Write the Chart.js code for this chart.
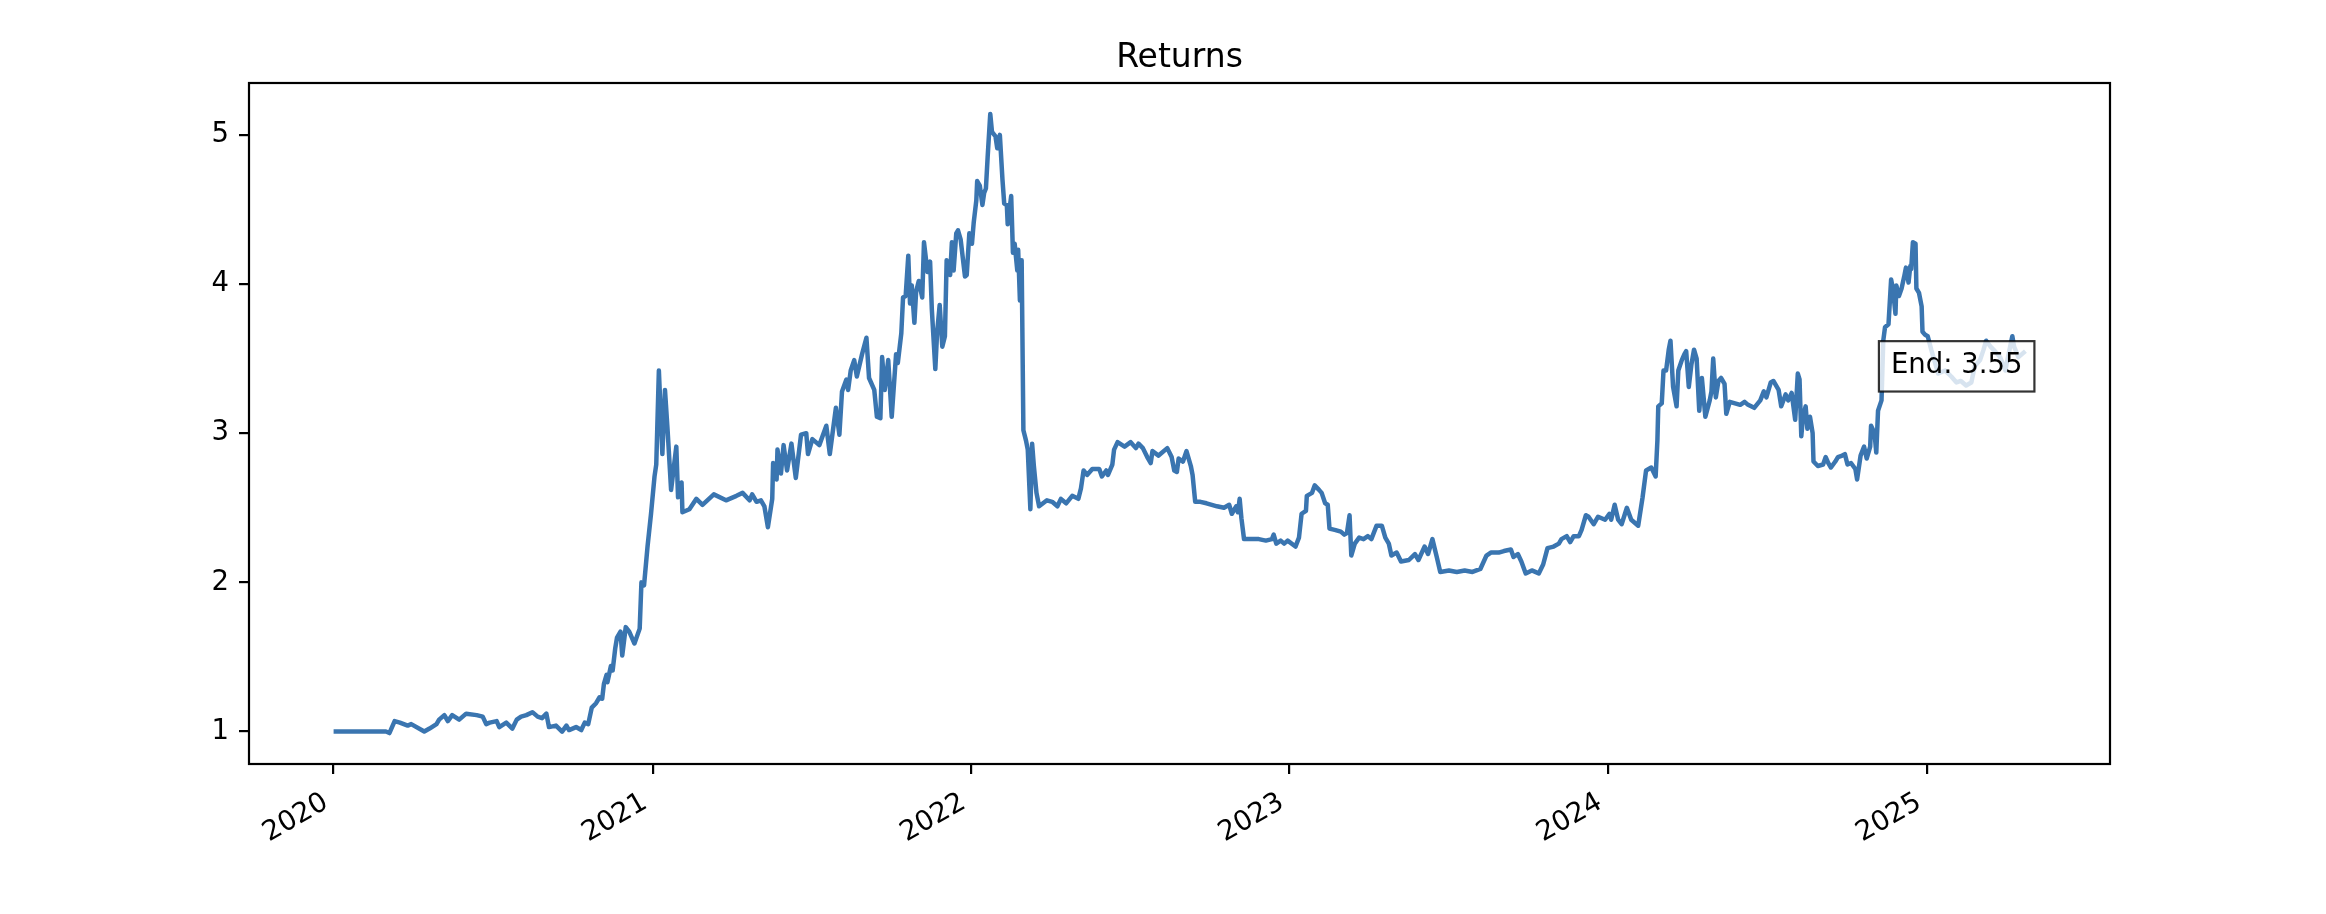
<!DOCTYPE html>
<html>
<head>
<meta charset="utf-8">
<title>Returns</title>
<script src="https://cdn.jsdelivr.net/npm/chart.js@4.4.1/dist/chart.umd.min.js"></script>
<style>
  html, body { margin: 0; padding: 0; background: #fff; }
  #returns { display: block; }
</style>
</head>
<body>
<canvas id="returns" width="2326" height="914"></canvas>
<script>
// cumulative returns
var dates = [
    // 2020
    '2020-01-01', '2020-03-01', '2020-03-05', '2020-03-11', '2020-03-17', '2020-03-26', '2020-03-30',
    '2020-04-14', '2020-04-20', '2020-04-28', '2020-05-01', '2020-05-07', '2020-05-11', '2020-05-16',
    '2020-05-24', '2020-06-01', '2020-06-13', '2020-06-20', '2020-06-24', '2020-06-28', '2020-07-06',
    '2020-07-09', '2020-07-17', '2020-07-24', '2020-07-29', '2020-08-03', '2020-08-09', '2020-08-16',
    '2020-08-22', '2020-08-27', '2020-09-01', '2020-09-04', '2020-09-12', '2020-09-19', '2020-09-24',
    '2020-09-27', '2020-10-05', '2020-10-11', '2020-10-15', '2020-10-19', '2020-10-23', '2020-10-28',
    '2020-11-01', '2020-11-04', '2020-11-06', '2020-11-09', '2020-11-10', '2020-11-14', '2020-11-16',
    '2020-11-19', '2020-11-21', '2020-11-25', '2020-11-27', '2020-12-01', '2020-12-05', '2020-12-11',
    '2020-12-17', '2020-12-19', '2020-12-22', '2020-12-26', '2020-12-30',
    // 2021
    '2021-01-03', '2021-01-05', '2021-01-08', '2021-01-12', '2021-01-15', '2021-01-18', '2021-01-22',
    '2021-01-28', '2021-01-30', '2021-02-03', '2021-02-04', '2021-02-12', '2021-02-20', '2021-02-27',
    '2021-03-12', '2021-03-26', '2021-04-07', '2021-04-14', '2021-04-22', '2021-04-25', '2021-04-30',
    '2021-05-05', '2021-05-09', '2021-05-13', '2021-05-18', '2021-05-19', '2021-05-23', '2021-05-24',
    '2021-05-28', '2021-05-31', '2021-06-04', '2021-06-09', '2021-06-14', '2021-06-20', '2021-06-26',
    '2021-06-28', '2021-07-03', '2021-07-11', '2021-07-19', '2021-07-23', '2021-07-30', '2021-08-03',
    '2021-08-06', '2021-08-11', '2021-08-13', '2021-08-16', '2021-08-20', '2021-08-23', '2021-08-29',
    '2021-09-03', '2021-09-06', '2021-09-12', '2021-09-15', '2021-09-19', '2021-09-21', '2021-09-24',
    '2021-09-28', '2021-10-02', '2021-10-07', '2021-10-09', '2021-10-13', '2021-10-15', '2021-10-18',
    '2021-10-21', '2021-10-23', '2021-10-25', '2021-10-28', '2021-10-30', '2021-11-02', '2021-11-06',
    '2021-11-08', '2021-11-12', '2021-11-15', '2021-11-17', '2021-11-21', '2021-11-23', '2021-11-26',
    '2021-11-29', '2021-12-02', '2021-12-04', '2021-12-08', '2021-12-10', '2021-12-12', '2021-12-15',
    '2021-12-17', '2021-12-20', '2021-12-25', '2021-12-27', '2021-12-30',
    // 2022
    '2022-01-02', '2022-01-04', '2022-01-07', '2022-01-08', '2022-01-11', '2022-01-14', '2022-01-16',
    '2022-01-18', '2022-01-20', '2022-01-23', '2022-01-25', '2022-01-29', '2022-01-31', '2022-02-03',
    '2022-02-06', '2022-02-08', '2022-02-11', '2022-02-12', '2022-02-16', '2022-02-18', '2022-02-20',
    '2022-02-23', '2022-02-24', '2022-02-26', '2022-02-28', '2022-03-02', '2022-03-05', '2022-03-07',
    '2022-03-10', '2022-03-12', '2022-03-14', '2022-03-17', '2022-03-20', '2022-03-29', '2022-04-04',
    '2022-04-10', '2022-04-14', '2022-04-20', '2022-04-27', '2022-05-04', '2022-05-07', '2022-05-10',
    '2022-05-14', '2022-05-20', '2022-05-28', '2022-05-31', '2022-06-05', '2022-06-07', '2022-06-12',
    '2022-06-14', '2022-06-18', '2022-06-26', '2022-07-03', '2022-07-09', '2022-07-12', '2022-07-17',
    '2022-07-22', '2022-07-26', '2022-07-28', '2022-08-04', '2022-08-14', '2022-08-19', '2022-08-22',
    '2022-08-25', '2022-08-27', '2022-09-01', '2022-09-05', '2022-09-10', '2022-09-12', '2022-09-15',
    '2022-09-21', '2022-09-28', '2022-10-04', '2022-10-10', '2022-10-18', '2022-10-24', '2022-10-27',
    '2022-11-01', '2022-11-03', '2022-11-05', '2022-11-07', '2022-11-10', '2022-11-19', '2022-11-27',
    '2022-12-05', '2022-12-12', '2022-12-14', '2022-12-17', '2022-12-22', '2022-12-26', '2022-12-30',
    // 2023
    '2023-01-08', '2023-01-12', '2023-01-15', '2023-01-20', '2023-01-21', '2023-01-27', '2023-01-30',
    '2023-02-04', '2023-02-07', '2023-02-11', '2023-02-14', '2023-02-16', '2023-02-23', '2023-03-01',
    '2023-03-05', '2023-03-08', '2023-03-11', '2023-03-13', '2023-03-17', '2023-03-22', '2023-03-27',
    '2023-04-01', '2023-04-05', '2023-04-11', '2023-04-17', '2023-04-21', '2023-04-25', '2023-04-28',
    '2023-05-04', '2023-05-09', '2023-05-18', '2023-05-25', '2023-05-29', '2023-06-05', '2023-06-09',
    '2023-06-14', '2023-06-19', '2023-06-23', '2023-07-03', '2023-07-12', '2023-07-21', '2023-07-30',
    '2023-08-08', '2023-08-15', '2023-08-20', '2023-08-29', '2023-09-04', '2023-09-12', '2023-09-15',
    '2023-09-20', '2023-09-24', '2023-09-29', '2023-10-06', '2023-10-14', '2023-10-19', '2023-10-24',
    '2023-10-31', '2023-11-06', '2023-11-09', '2023-11-15', '2023-11-19', '2023-11-23', '2023-11-29',
    '2023-12-02', '2023-12-07', '2023-12-10', '2023-12-16', '2023-12-21', '2023-12-29',
    // 2024
    '2024-01-03', '2024-01-05', '2024-01-09', '2024-01-13', '2024-01-17', '2024-01-23', '2024-01-28',
    '2024-02-05', '2024-02-10', '2024-02-14', '2024-02-20', '2024-02-25', '2024-02-27', '2024-02-28',
    '2024-03-03', '2024-03-05', '2024-03-08', '2024-03-11', '2024-03-13', '2024-03-16', '2024-03-20',
    '2024-03-22', '2024-03-26', '2024-03-29', '2024-03-31', '2024-04-03', '2024-04-06', '2024-04-09',
    '2024-04-12', '2024-04-15', '2024-04-18', '2024-04-22', '2024-04-27', '2024-04-29', '2024-05-01',
    '2024-05-04', '2024-05-07', '2024-05-10', '2024-05-14', '2024-05-16', '2024-05-20', '2024-05-26',
    '2024-06-01', '2024-06-06', '2024-06-10', '2024-06-17', '2024-06-24', '2024-06-28', '2024-07-01',
    '2024-07-06', '2024-07-09', '2024-07-15', '2024-07-18', '2024-07-23', '2024-07-26', '2024-07-30',
    '2024-08-01', '2024-08-03', '2024-08-06', '2024-08-08', '2024-08-10', '2024-08-12', '2024-08-15',
    '2024-08-17', '2024-08-20', '2024-08-23', '2024-08-24', '2024-08-29', '2024-09-04', '2024-09-07',
    '2024-09-10', '2024-09-13', '2024-09-18', '2024-09-21', '2024-09-26', '2024-09-29', '2024-10-02',
    '2024-10-06', '2024-10-11', '2024-10-13', '2024-10-17', '2024-10-21', '2024-10-24', '2024-10-28',
    '2024-10-29', '2024-11-02', '2024-11-04', '2024-11-06', '2024-11-10', '2024-11-12', '2024-11-14',
    '2024-11-18', '2024-11-21', '2024-11-23', '2024-11-26', '2024-11-27', '2024-11-30', '2024-12-03',
    '2024-12-06', '2024-12-08', '2024-12-11', '2024-12-13', '2024-12-14', '2024-12-16', '2024-12-19',
    '2024-12-20', '2024-12-23', '2024-12-26', '2024-12-27', '2024-12-30',
    // 2025
    '2025-01-02', '2025-01-06', '2025-01-14', '2025-01-22', '2025-01-29', '2025-02-04', '2025-02-09',
    '2025-02-15', '2025-02-21', '2025-02-25', '2025-03-03', '2025-03-07', '2025-03-10', '2025-03-15',
    '2025-03-20', '2025-03-26', '2025-04-01', '2025-04-04', '2025-04-09', '2025-04-11', '2025-04-16',
    '2025-04-24'
];

var returns = [
    // 2020
    1.00, 1.00, 0.99, 1.07, 1.06, 1.04, 1.05,
    1.00, 1.02, 1.05, 1.08, 1.11, 1.07, 1.11,
    1.08, 1.12, 1.11, 1.10, 1.05, 1.06, 1.07,
    1.03, 1.06, 1.02, 1.08, 1.10, 1.11, 1.13,
    1.10, 1.09, 1.12, 1.03, 1.04, 1.00, 1.04,
    1.01, 1.03, 1.01, 1.06, 1.05, 1.16, 1.19,
    1.23, 1.22, 1.32, 1.38, 1.33, 1.44, 1.41,
    1.56, 1.63, 1.67, 1.51, 1.70, 1.67, 1.59,
    1.69, 2.00, 1.98, 2.24, 2.46,
    // 2021
    2.71, 2.79, 3.42, 2.86, 3.29, 3.02, 2.62,
    2.91, 2.57, 2.67, 2.47, 2.49, 2.56, 2.52,
    2.59, 2.55, 2.58, 2.60, 2.55, 2.59, 2.54,
    2.55, 2.51, 2.37, 2.56, 2.80, 2.69, 2.89,
    2.73, 2.92, 2.75, 2.93, 2.70, 2.99, 3.00,
    2.86, 2.96, 2.92, 3.05, 2.86, 3.17, 2.99,
    3.28, 3.36, 3.29, 3.42, 3.49, 3.38, 3.53,
    3.64, 3.37, 3.29, 3.11, 3.10, 3.51, 3.29,
    3.49, 3.11, 3.53, 3.47, 3.67, 3.91, 3.92,
    4.19, 3.87, 3.99, 3.74, 3.95, 4.02, 3.91,
    4.28, 4.08, 4.15, 3.83, 3.43, 3.67, 3.86,
    3.58, 3.65, 4.16, 4.06, 4.28, 4.09, 4.34,
    4.36, 4.30, 4.05, 4.06, 4.34,
    // 2022
    4.27, 4.41, 4.56, 4.69, 4.66, 4.53, 4.61,
    4.64, 4.85, 5.14, 5.02, 4.99, 4.91, 5.00,
    4.70, 4.54, 4.53, 4.40, 4.59, 4.21, 4.27,
    4.09, 4.23, 3.89, 4.16, 3.02, 2.95, 2.89,
    2.49, 2.93, 2.78, 2.60, 2.51, 2.55, 2.54,
    2.51, 2.56, 2.53, 2.58, 2.56, 2.63, 2.75,
    2.72, 2.76, 2.76, 2.71, 2.75, 2.72, 2.79,
    2.89, 2.94, 2.91, 2.94, 2.90, 2.93, 2.90,
    2.84, 2.80, 2.88, 2.85, 2.90, 2.84, 2.75,
    2.74, 2.83, 2.81, 2.88, 2.78, 2.72, 2.54,
    2.54, 2.53, 2.52, 2.51, 2.50, 2.52, 2.46,
    2.51, 2.47, 2.56, 2.43, 2.29, 2.29, 2.29,
    2.28, 2.29, 2.32, 2.26, 2.28, 2.26, 2.28,
    // 2023
    2.24, 2.30, 2.46, 2.48, 2.58, 2.60, 2.65,
    2.62, 2.60, 2.53, 2.52, 2.36, 2.35, 2.34,
    2.32, 2.33, 2.45, 2.18, 2.26, 2.30, 2.29,
    2.31, 2.29, 2.38, 2.38, 2.30, 2.26, 2.18,
    2.20, 2.14, 2.15, 2.19, 2.15, 2.24, 2.19,
    2.29, 2.17, 2.07, 2.08, 2.07, 2.08, 2.07,
    2.09, 2.18, 2.20, 2.20, 2.21, 2.22, 2.17,
    2.19, 2.14, 2.06, 2.08, 2.06, 2.12, 2.23,
    2.24, 2.26, 2.29, 2.31, 2.27, 2.31, 2.31,
    2.35, 2.45, 2.44, 2.39, 2.44, 2.42,
    // 2024
    2.46, 2.42, 2.52, 2.42, 2.39, 2.50, 2.42,
    2.38, 2.57, 2.75, 2.77, 2.71, 2.95, 3.18,
    3.20, 3.42, 3.42, 3.56, 3.62, 3.31, 3.18,
    3.42, 3.49, 3.53, 3.55, 3.31, 3.46, 3.56,
    3.50, 3.15, 3.37, 3.11, 3.22, 3.28, 3.50,
    3.24, 3.35, 3.37, 3.33, 3.13, 3.21, 3.20,
    3.19, 3.21, 3.19, 3.17, 3.22, 3.28, 3.24,
    3.34, 3.35, 3.29, 3.18, 3.26, 3.22, 3.27,
    3.18, 3.09, 3.40, 3.36, 2.98, 3.11, 3.18,
    3.03, 3.11, 3.00, 2.81, 2.78, 2.79, 2.84,
    2.80, 2.77, 2.81, 2.84, 2.85, 2.86, 2.79,
    2.80, 2.76, 2.69, 2.85, 2.91, 2.83, 2.91,
    3.05, 3.00, 2.87, 3.15, 3.22, 3.62, 3.71,
    3.73, 4.03, 3.97, 3.80, 3.99, 3.92, 3.97,
    4.05, 4.11, 4.01, 4.12, 4.10, 4.28, 4.27,
    3.97, 3.94, 3.85, 3.68, 3.66,
    // 2025
    3.65, 3.56, 3.40, 3.42, 3.38, 3.34, 3.35,
    3.32, 3.34, 3.45, 3.49, 3.56, 3.62, 3.58,
    3.55, 3.51, 3.42, 3.51, 3.65, 3.58, 3.51,
    3.55
];

var xTickLabels = ['2020', '2021', '2022', '2023', '2024', '2025'];
var yTickValues = [1, 2, 3, 4, 5];

var lineColor = '#3a75b0';
var fontFamily = '"DejaVu Sans", sans-serif';

var points = dates.map(function (d, i) {
    return { x: Date.parse(d), y: returns[i] };
});

// 5% margins like the source figure
var xs = points.map(function (p) { return p.x; });
var xLo = Math.min.apply(null, xs), xHi = Math.max.apply(null, xs);
var yLo = Math.min.apply(null, returns), yHi = Math.max.apply(null, returns);
var xPad = (xHi - xLo) * 0.05, yPad = (yHi - yLo) * 0.05;

var framePlugin = {
    id: 'frame',
    afterDatasetsDraw: function (chart) {
        var ctx = chart.ctx, a = chart.chartArea;
        ctx.save();
        ctx.strokeStyle = '#000';
        ctx.lineWidth = 2.2;
        ctx.strokeRect(a.left, a.top, a.right - a.left, a.bottom - a.top);

        // title
        ctx.fillStyle = '#000';
        ctx.font = '33px ' + fontFamily;
        ctx.textAlign = 'center';
        ctx.textBaseline = 'alphabetic';
        ctx.fillText('Returns', (a.left + a.right) / 2, a.top - 16);

        // end value box
        var meta = chart.getDatasetMeta(0);
        var last = meta.data[meta.data.length - 1];
        var label = 'End: ' + returns[returns.length - 1].toFixed(2);
        var fs = 27.5, padX = 12, padY = 8;
        ctx.font = fs + 'px ' + fontFamily;
        var w = ctx.measureText(label).width;
        var right = last.x - 3, top = last.y - 2;
        var bx = right - w - padX, by = top - padY, bw = w + 2 * padX, bh = fs * 1.25 + 2 * padY;
        ctx.fillStyle = 'rgba(255,255,255,0.8)';
        ctx.fillRect(bx, by, bw, bh);
        ctx.strokeStyle = 'rgba(0,0,0,0.8)';
        ctx.lineWidth = 2.2;
        ctx.strokeRect(bx, by, bw, bh);
        ctx.fillStyle = '#000';
        ctx.textAlign = 'right';
        ctx.textBaseline = 'top';
        ctx.fillText(label, right, top + 3);
        ctx.restore();
    }
};

var tickFont = { family: fontFamily, size: 27.5 };

var returnsChart = new Chart(document.getElementById('returns'), {
    type: 'line',
    data: {
        datasets: [{
            label: 'Returns',
            data: points,
            borderColor: lineColor,
            borderWidth: 4.5,
            borderJoinStyle: 'round',
            pointRadius: 0,
            tension: 0,
            fill: false
        }]
    },
    options: {
        responsive: false,
        devicePixelRatio: 1,
        animation: false,
        layout: { padding: { left: 0, top: 83, right: 216, bottom: 0 } },
        plugins: {
            legend: { display: false },
            title: { display: false },
            tooltip: { enabled: false }
        },
        scales: {
            x: {
                type: 'linear',
                min: xLo - xPad,
                max: xHi + xPad,
                afterBuildTicks: function (axis) {
                    axis.ticks = xTickLabels.map(function (y) { return { value: Date.parse(y + '-01-01') }; });
                },
                afterFit: function (axis) { axis.height = 150; },
                grid: { display: true, drawOnChartArea: false, drawTicks: true, tickLength: 10, lineWidth: 2.2, color: '#000', tickColor: '#000' },
                border: { display: false },
                ticks: {
                    autoSkip: false,
                    minRotation: 30,
                    maxRotation: 30,
                    padding: 8,
                    color: '#000',
                    font: tickFont,
                    callback: function (v) { return new Date(v).getUTCFullYear() + ' '; }
                }
            },
            y: {
                type: 'linear',
                min: yLo - yPad,
                max: yHi + yPad,
                afterBuildTicks: function (axis) {
                    axis.ticks = yTickValues.map(function (v) { return { value: v }; });
                },
                afterFit: function (axis) { axis.width = 249; },
                grid: { display: true, drawOnChartArea: false, drawTicks: true, tickLength: 10, lineWidth: 2.2, color: '#000', tickColor: '#000' },
                border: { display: false },
                ticks: {
                    padding: 10,
                    color: '#000',
                    font: tickFont,
                    callback: function (v) { return String(v); }
                }
            }
        }
    },
    plugins: [framePlugin]
});
</script>
</body>
</html>
